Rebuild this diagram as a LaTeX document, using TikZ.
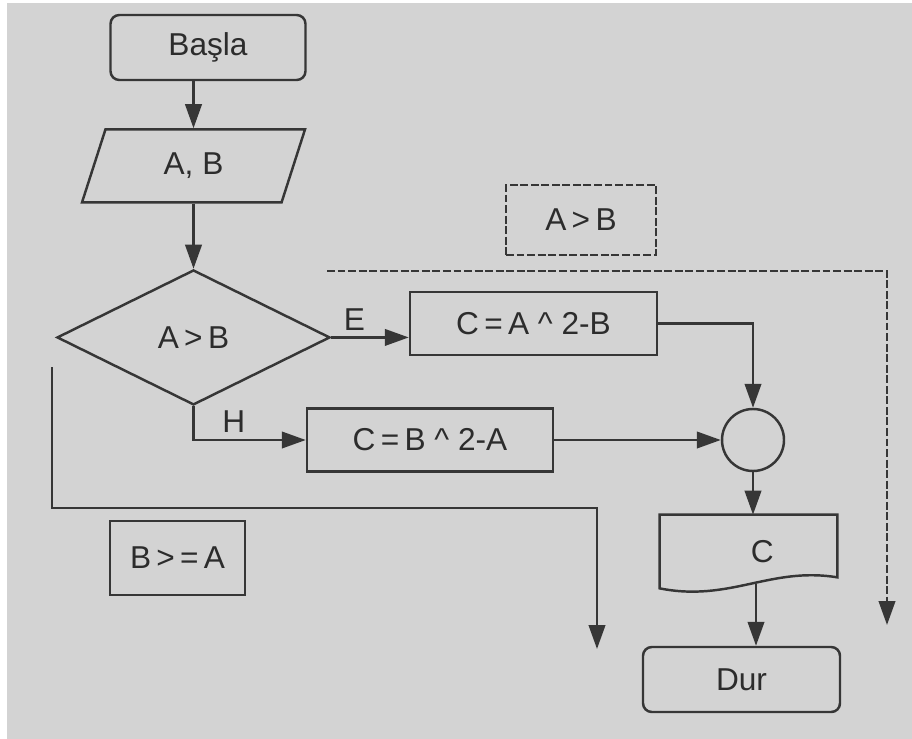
\documentclass[tikz,border=0pt]{standalone}
\usepackage{fontspec}
\setmainfont{Liberation Sans}
\usetikzlibrary{positioning, arrows.meta, shapes.geometric, calc}
\definecolor{PageGray}{HTML}{D3D3D3}
\definecolor{InkGray}{HTML}{363636}
\definecolor{TextGray}{HTML}{2C2C2C}

\begin{document}
\begin{tikzpicture}[
        font=\fontsize{18}{21}\selectfont,
        startstop/.style={
            rectangle, rounded corners=5pt, minimum width=3.9cm,
            minimum height=1.3cm, draw=InkGray, line width=1.4pt, text=TextGray
        },
        io/.style={
            trapezium, trapezium left angle=58, trapezium right angle=122,
            trapezium stretches body, minimum width=4.46cm, minimum height=1.46cm,
            draw=InkGray, line width=1.4pt, text=TextGray
        },
        decision/.style={
            diamond, minimum width=5.46cm, minimum height=2.7cm, inner sep=0pt,
            draw=InkGray, line width=1.4pt, text=TextGray
        },
        process/.style={
            rectangle, minimum width=4.94cm, minimum height=1.26cm,
            draw=InkGray, line width=1.4pt, text=TextGray
        },
        junction/.style={circle, minimum size=1.24cm, draw=InkGray, line width=1.4pt},
        note/.style={rectangle, draw=InkGray, line width=1.4pt, text=TextGray},
        arrow/.style={line width=1.4pt, color=InkGray, -{Triangle[length=4.8mm, width=3.3mm]}},
        dashedarrow/.style={arrow, dash pattern=on 4.5pt off 1.5pt}
    ]

    % Page
    \fill[white] (0,0) rectangle (18.24,-14.78);
    \fill[PageGray] (0.14,-0.06) rectangle (18.24,-14.78);
    \useasboundingbox (0,0) rectangle (18.24,-14.78);

    % Main column
    \node (basla) [startstop] at (4.16,-0.95) {Başla};
    \node (ab) [io, below=0.94cm of basla, xshift=-0.29cm] {A, B};
    \node (dec) [decision, below=1.3cm of ab] {A\,>\,B};

    % Branches
    \node (sq1) [process] at (10.67,-6.47) {C\,=\,A \textasciicircum{} 2-B};
    \node (sq2) [process, minimum width=4.92cm] at (8.6,-8.8) {C\,=\,B \textasciicircum{} 2-A};
    \node (join) [junction] at (15.06,-8.8) {};

    % Output and end
    \node (out) [rectangle, minimum width=3.54cm, minimum height=1.46cm, text=TextGray] at (14.97,-11.03) {\hspace*{0.55cm}C};
    \draw [InkGray, line width=1.4pt] (out.north west) -- (out.north east) -- ([yshift=0.22cm]out.south east)
        .. controls +(-1.34,0.22) and +(1.4,-0.28) .. (out.south west) -- cycle;
    \node (dur) [startstop, minimum width=3.94cm] at (14.83,-13.59) {Dur};

    % Conditions
    \node (cond1) [note, dash pattern=on 4.5pt off 1.5pt, minimum width=3cm, minimum height=1.4cm] at (11.62,-4.4) {A\,>\,B};
    \node (cond2) [note, minimum width=2.7cm, minimum height=1.48cm] at (3.55,-11.16) {B\,>\,=\,A};

    % Free ends
    \coordinate (nstart) at (1.04,-7.34);
    \coordinate (nend) at (11.94,-12.98);
    \coordinate (dstart) at (6.54,-5.42);
    \coordinate (dend) at (17.74,-12.5);

    % Forward arrows
    \draw [arrow] (basla.south -| ab.north) -- (ab.north);
    \draw [arrow] (ab.south) -- (dec.north);
    \draw [arrow] (dec.east) -- node[pos=0.3, above, text=TextGray]{E} (dec.east -| sq1.west);
    \draw [arrow] (dec.south) |- node[pos=0.68, above, text=TextGray]{H} (sq2.west);
    \draw [arrow] (sq1.east) -| (join.north);
    \draw [arrow] (sq2.east) -- (join.west);
    \draw [arrow] (join.south) -- (join.south |- out.north);
    \draw [arrow] ($(join.south |- out.south)+(0.06,0.08)$) -- ($(join.south |- dur.north)+(0.06,0)$);

    % Condition paths
    \draw [arrow] (nstart) -- ++(0,-2.82) -| (nend);
    \draw [dashedarrow] (dstart) -| (dend);

\end{tikzpicture}
\end{document}
